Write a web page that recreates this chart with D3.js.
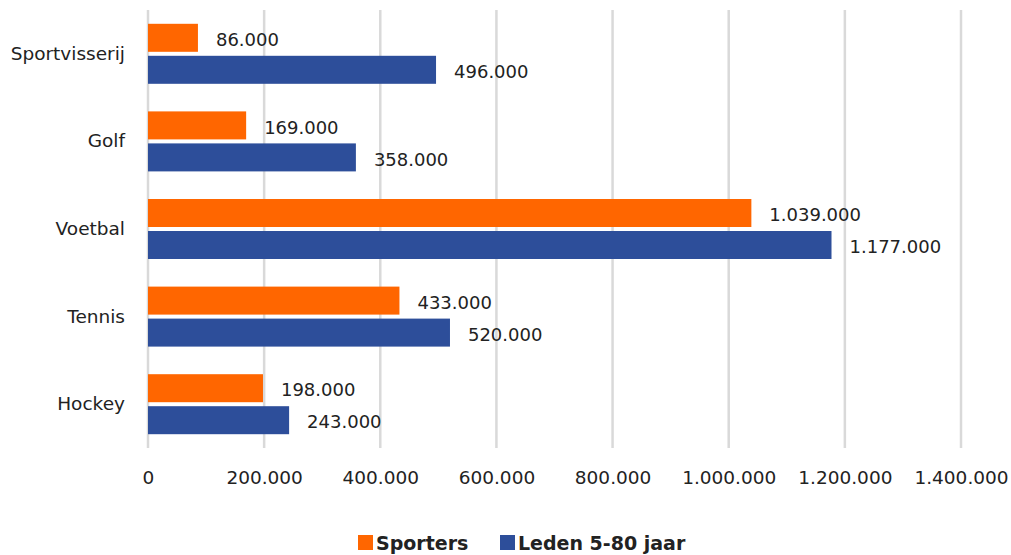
<!DOCTYPE html>
<html>
<head>
<meta charset="utf-8">
<script src="https://cdn.jsdelivr.net/npm/d3@7"></script>
<style>
  body { margin: 0; background: #fff; }
  text { font-family: "DejaVu Sans", sans-serif; fill: #222; }
</style>
</head>
<body>
<svg width="1011" height="555"></svg>
<script>
var categories = ["Sportvisserij", "Golf", "Voetbal", "Tennis", "Hockey"];
var sporters = [86000, 169000, 1039000, 433000, 198000];
var leden = [496000, 358000, 1177000, 520000, 243000];
var seriesNames = ["Sporters", "Leden 5-80 jaar"];
var tickValues = [0, 200000, 400000, 600000, 800000, 1000000, 1200000, 1400000];

var colors = {"Sporters": "#ff6600", "Leden 5-80 jaar": "#2d4e9a"};

var svg = d3.select("svg"),
    margin = {top: 10, right: 50, bottom: 107, left: 148},
    width = +svg.attr("width") - margin.left - margin.right,
    height = +svg.attr("height") - margin.top - margin.bottom,
    g = svg.append("g").attr("transform", "translate(" + margin.left + "," + margin.top + ")");

var fmt = function (v) {
    return d3.format(",")(v).replace(/,/g, ".");
};

var x = d3.scaleLinear().domain([0, 1400000]).range([0, width]);
var y = d3.scaleBand().domain(categories).range([0, height]).paddingInner(0).paddingOuter(0);
var barH = 28, barGap = 4;

// gridlines
g.selectAll(".grid")
    .data(tickValues)
    .enter().append("line")
    .attr("x1", function (d) { return x(d); })
    .attr("x2", function (d) { return x(d); })
    .attr("y1", 0)
    .attr("y2", height)
    .attr("stroke", "#d9d9d9")
    .attr("stroke-width", 2.5);

// x axis tick labels
var xAxis = g.append("g")
    .attr("transform", "translate(0," + height + ")")
    .call(d3.axisBottom(x).tickValues(tickValues).tickFormat(fmt).tickSize(0).tickPadding(23));
xAxis.select(".domain").remove();
xAxis.selectAll("text").style("font-size", "18.5px").style("font-family", "'DejaVu Sans', sans-serif").attr("fill", "#222");

// category labels
var yAxis = g.append("g")
    .call(d3.axisLeft(y).tickSize(0).tickPadding(23));
yAxis.select(".domain").remove();
yAxis.selectAll("text").style("font-size", "18.5px").style("font-family", "'DejaVu Sans', sans-serif").attr("fill", "#222");

var rows = categories.map(function (c, i) {
    return {cat: c, vals: [{name: seriesNames[0], v: sporters[i]}, {name: seriesNames[1], v: leden[i]}]};
});

var groups = g.selectAll(".row")
    .data(rows)
    .enter().append("g")
    .attr("transform", function (d) {
        return "translate(0," + (y(d.cat) + y.bandwidth() / 2 - barH - barGap / 2) + ")";
    });

groups.selectAll("rect")
    .data(function (d) { return d.vals; })
    .enter().append("rect")
    .attr("x", x(0))
    .attr("y", function (d, i) { return i * (barH + barGap); })
    .attr("width", function (d) { return x(d.v) - x(0); })
    .attr("height", barH)
    .attr("fill", function (d) { return colors[d.name]; });

groups.selectAll(".lbl")
    .data(function (d) { return d.vals; })
    .enter().append("text")
    .attr("class", "lbl")
    .attr("x", function (d) { return x(d.v) + 18; })
    .attr("y", function (d, i) { return i * (barH + barGap) + barH / 2 + 2; })
    .attr("dy", "0.35em")
    .style("font-size", "18px")
    .text(function (d) { return fmt(d.v); });

// legend
var legend = svg.append("g").attr("transform", "translate(358,543)");
var legendX = [0, 142];
seriesNames.forEach(function (s, i) {
    var item = legend.append("g").attr("transform", "translate(" + legendX[i] + ",0)");
    item.append("rect").attr("x", 0).attr("y", -8).attr("width", 15).attr("height", 15).attr("fill", colors[s]);
    item.append("text").attr("x", 18).attr("y", 0).attr("dy", "0.35em")
        .style("font-size", "19px").style("font-weight", "bold").text(s);
});
</script>
</body>
</html>
